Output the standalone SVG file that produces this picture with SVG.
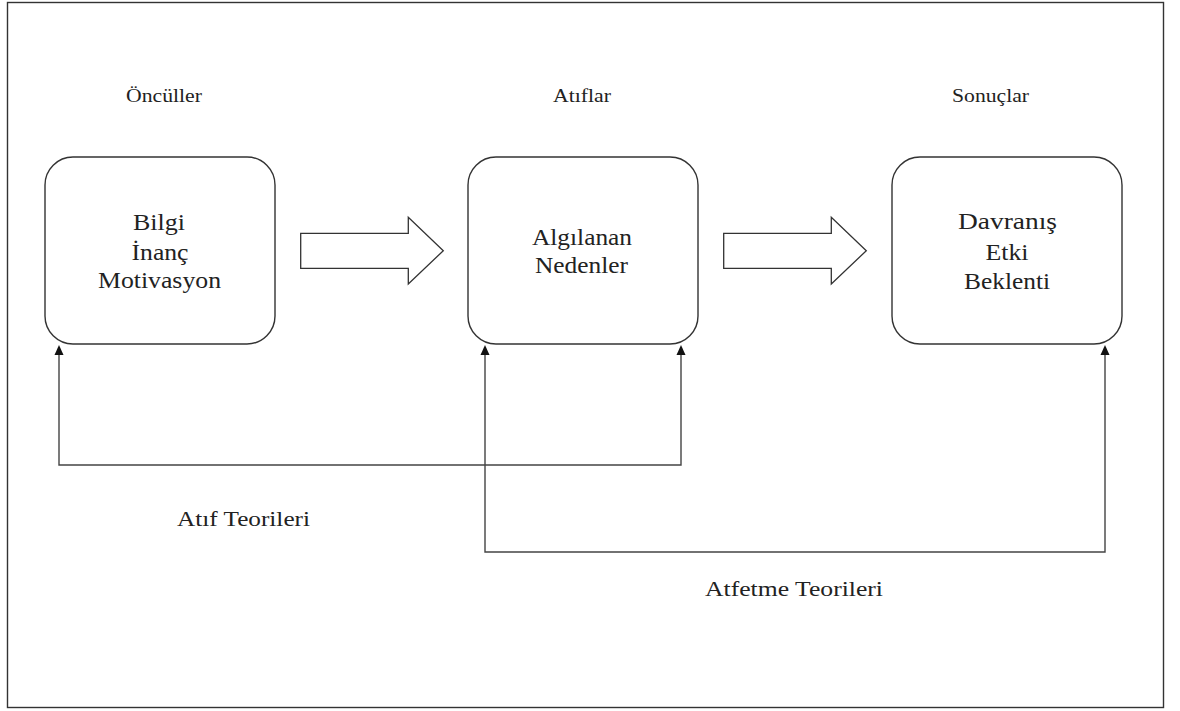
<svg xmlns="http://www.w3.org/2000/svg" width="1180" height="711" viewBox="0 0 1180 711">
  <defs>
    <style>
      .frame { fill: #ffffff; stroke: #333333; stroke-width: 1.4; }
      .box { fill: #ffffff; stroke: #333333; stroke-width: 1.4; }
      .fat { fill: #ffffff; stroke: #333333; stroke-width: 1.3; stroke-linejoin: miter; }
      .conn { fill: none; stroke: #444444; stroke-width: 1.4; }
      .hdr { font-family: "Liberation Serif", "Times New Roman", serif; font-size: 18px; fill: #222222; text-anchor: middle; }
      .txt { font-family: "Liberation Serif", "Times New Roman", serif; font-size: 23px; fill: #222222; text-anchor: middle; }
      .lbl { font-family: "Liberation Serif", "Times New Roman", serif; font-size: 22px; fill: #222222; text-anchor: middle; }
    </style>
    <marker id="ah" viewBox="0 0 10 10" refX="5" refY="5" markerWidth="10" markerHeight="10" markerUnits="userSpaceOnUse" orient="auto">
      <path d="M0,0.5 L10,5 L0,9.5 z" fill="#111111"/>
    </marker>
  </defs>

  <rect class="frame" x="7.5" y="2.5" width="1156" height="705"/>

  <g id="header-onculler"><text class="hdr" x="164" y="102" textLength="76" lengthAdjust="spacingAndGlyphs">Öncüller</text></g>
  <g id="header-atiflar"><text class="hdr" x="582" y="102" textLength="58" lengthAdjust="spacingAndGlyphs">Atıflar</text></g>
  <g id="header-sonuclar"><text class="hdr" x="990.5" y="102" textLength="77" lengthAdjust="spacingAndGlyphs">Sonuçlar</text></g>

  <g id="node-onculler">
    <rect class="box" x="45" y="157" width="230" height="187" rx="28" ry="28"/>
    <text class="txt" x="159" y="230" textLength="52" lengthAdjust="spacingAndGlyphs">Bilgi</text>
    <text class="txt" x="160" y="260" textLength="57" lengthAdjust="spacingAndGlyphs">İnanç</text>
    <text class="txt" x="159.5" y="288" textLength="123" lengthAdjust="spacingAndGlyphs">Motivasyon</text>
  </g>

  <g id="node-atiflar">
    <rect class="box" x="468" y="157" width="230" height="187" rx="28" ry="28"/>
    <text class="txt" x="582" y="245" textLength="100" lengthAdjust="spacingAndGlyphs">Algılanan</text>
    <text class="txt" x="581.5" y="273" textLength="93" lengthAdjust="spacingAndGlyphs">Nedenler</text>
  </g>

  <g id="node-sonuclar">
    <rect class="box" x="892" y="157" width="230" height="187" rx="28" ry="28"/>
    <text class="txt" x="1007.5" y="229" textLength="99" lengthAdjust="spacingAndGlyphs">Davranış</text>
    <text class="txt" x="1007" y="260" textLength="43" lengthAdjust="spacingAndGlyphs">Etki</text>
    <text class="txt" x="1007" y="289" textLength="86" lengthAdjust="spacingAndGlyphs">Beklenti</text>
  </g>

  <g id="flow-arrows">
    <polygon class="fat" points="300.7,233.3 408.3,233.3 408.3,217.3 443.3,250.7 408.3,284 408.3,268.3 300.7,268.3"/>
    <polygon class="fat" points="723.7,233.3 831.3,233.3 831.3,217.3 866.3,250.7 831.3,284 831.3,268.3 723.7,268.3"/>
  </g>

  <g id="connectors">
    <path class="conn" d="M59,350 V465 H681 V350" marker-start="url(#ahs)" marker-end="url(#ah)"/>
    <path class="conn" d="M485,350 V552 H1105 V350" marker-start="url(#ahs)" marker-end="url(#ah)"/>
  </g>
  <defs>
    <marker id="ahs" viewBox="0 0 10 10" refX="5" refY="5" markerWidth="10" markerHeight="10" markerUnits="userSpaceOnUse" orient="auto-start-reverse">
      <path d="M0,0.5 L10,5 L0,9.5 z" fill="#111111"/>
    </marker>
  </defs>

  <g id="label-atif"><text class="lbl" x="243.5" y="526" textLength="133" lengthAdjust="spacingAndGlyphs">Atıf Teorileri</text></g>
  <g id="label-atfetme"><text class="lbl" x="794" y="596" textLength="178" lengthAdjust="spacingAndGlyphs">Atfetme Teorileri</text></g>
</svg>
